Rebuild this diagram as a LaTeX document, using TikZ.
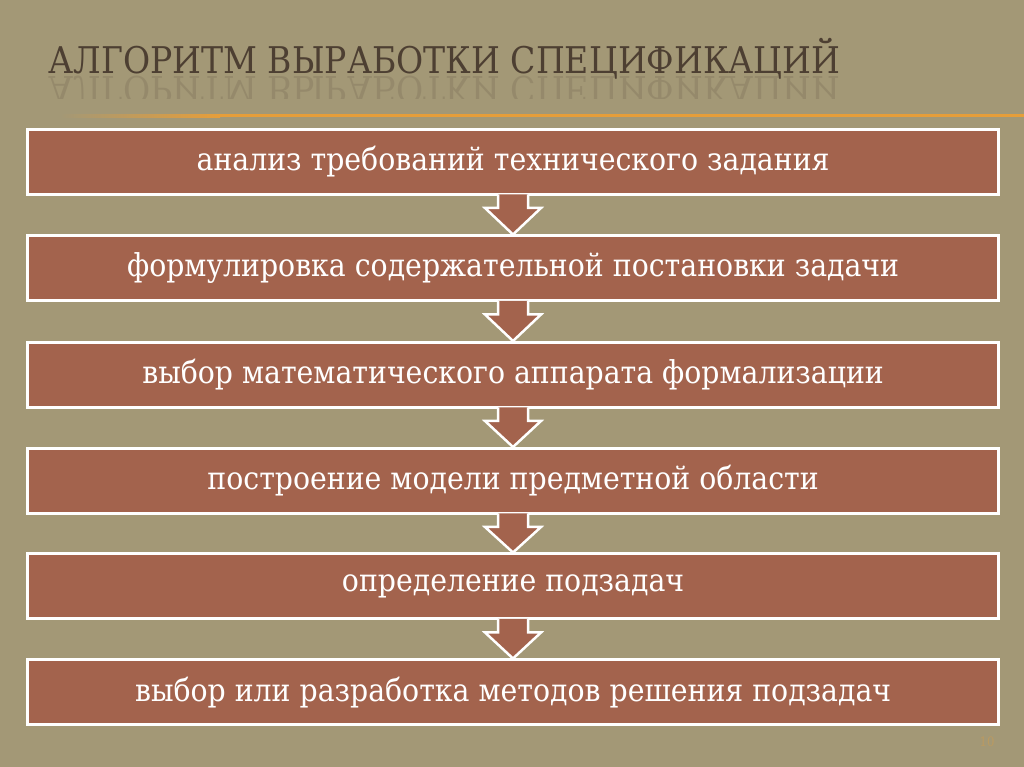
\documentclass[tikz,border=0pt]{standalone}
\usepackage{fontspec}
\usepackage{tikz}
\usetikzlibrary{calc}
\setmainfont{DejaVu Serif Condensed}

\definecolor{bgcol}{RGB}{163,152,118}
\definecolor{boxcol}{RGB}{163,99,77}
\definecolor{titlecol}{RGB}{77,63,50}
\definecolor{rulecol}{RGB}{230,158,58}

\newcommand{\chevron}[2]{%
\filldraw[chev] ($(#1.south)+(-15,1.5)$) -- ($(#1.south)+(-15,-12)$) -- ($(#1.south)+(-28,-12)$) -- (#2.north) -- ($(#1.south)+(28,-12)$) -- ($(#1.south)+(15,-12)$) -- ($(#1.south)+(15,1.5)$);}

\begin{document}
\begin{tikzpicture}[x=1pt,y=1pt,
  stepbox/.style={draw=white,line width=3pt,fill=boxcol,minimum width=971pt,minimum height=65pt,inner sep=0pt,text=white,font=\fontsize{31.5}{34}\selectfont},
  chev/.style={draw=white,line width=2.5pt,fill=boxcol}] %slide background first

\fill[bgcol] (0,0) rectangle (1024,767);

\node[anchor=base west,text=titlecol,font=\fontsize{36.8}{40}\selectfont] (title) at (45,693) {АЛГОРИТМ ВЫРАБОТКИ СПЕЦИФИКАЦИЙ};
\begin{scope}
\clip (0,668) rectangle (1024,691);
\node[anchor=base west,text=titlecol,opacity=0.16,yscale=-1,transform shape,font=\fontsize{36.8}{40}\selectfont] (mirror) at (45,690) {АЛГОРИТМ ВЫРАБОТКИ СПЕЦИФИКАЦИЙ};
\end{scope}

\shade[left color=bgcol,right color=rulecol] (60,649.5) rectangle (220,652.5);
\fill[rulecol] (220,649.5) rectangle (1024,652.5);

\node[stepbox] (s1) at (513,605) {анализ требований технического задания};
\node[stepbox] (s2) at (513,498.5) {формулировка содержательной постановки задачи};
\node[stepbox] (s3) at (513,392) {выбор математического аппарата формализации};
\node[stepbox] (s4) at (513,286) {построение модели предметной области};
\node[stepbox] (s5) at (513,180.5) {определение подзадач};
\node[stepbox] (s6) at (513,74.5) {выбор или разработка методов решения подзадач};

\chevron{s1}{s2}
\chevron{s2}{s3}
\chevron{s3}{s4}
\chevron{s4}{s5}
\chevron{s5}{s6}

\node[text=rulecol,opacity=0.35,font=\fontsize{13}{14}\selectfont] (pagenum) at (987,25) {10};

\end{tikzpicture}
\end{document}
